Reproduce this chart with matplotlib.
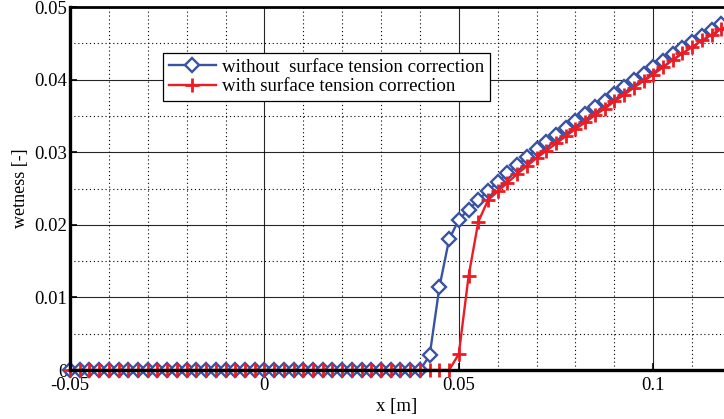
import matplotlib
matplotlib.use("Agg")
import matplotlib.pyplot as plt
from matplotlib.ticker import MultipleLocator

plt.rcParams['font.family'] = ['Liberation Serif', 'DejaVu Serif']

# x positions (m), step 0.0025
x = [-0.05, -0.0475, -0.045, -0.0425, -0.04, -0.0375, -0.035, -0.0325, -0.03, -0.0275,
     -0.025, -0.0225, -0.02, -0.0175, -0.015, -0.0125, -0.01, -0.0075, -0.005, -0.0025,
     0.0, 0.0025, 0.005, 0.0075, 0.01, 0.0125, 0.015, 0.0175, 0.02, 0.0225,
     0.025, 0.0275, 0.03, 0.0325, 0.035, 0.0375, 0.04, 0.0425, 0.045, 0.0475,
     0.05, 0.0525, 0.055, 0.0575, 0.06, 0.0625, 0.065, 0.0675, 0.07, 0.0725,
     0.075, 0.0775, 0.08, 0.0825, 0.085, 0.0875, 0.09, 0.0925, 0.095, 0.0975,
     0.1, 0.1025, 0.105, 0.1075, 0.11, 0.1125, 0.115, 0.1175]

wet_without = [0.0] * 37 + [
    0.0020, 0.0114, 0.0180, 0.0207, 0.0221, 0.0234, 0.0247, 0.0259, 0.0271, 0.0282,
    0.0293, 0.0304, 0.0314, 0.0324, 0.0333, 0.0343, 0.0352, 0.0362, 0.0371, 0.0380,
    0.0390, 0.0399, 0.0408, 0.0417, 0.0426, 0.0435, 0.0444, 0.0452, 0.0460, 0.0468,
    0.0476]

wet_with = [0.0] * 40 + [
    0.0022, 0.0129, 0.0204, 0.0234, 0.0246, 0.0258, 0.0270, 0.0281, 0.0292, 0.0302,
    0.0312, 0.0322, 0.0332, 0.0341, 0.0351, 0.0360, 0.0370, 0.0379, 0.0389, 0.0398,
    0.0407, 0.0417, 0.0427, 0.0436, 0.0445, 0.0454, 0.0462, 0.0470]

x_ticks = [-0.05, 0.0, 0.05, 0.1]
x_tick_labels = ['-0.05', '0', '0.05', '0.1']
y_ticks = [0.0, 0.01, 0.02, 0.03, 0.04, 0.05]
y_tick_labels = ['0', '0.01', '0.02', '0.03', '0.04', '0.05']

label_without = 'without  surface tension correction'
label_with = 'with surface tension correction'

blue = '#3953A4'
red = '#ED1C24'

fig = plt.figure(figsize=(7.24, 4.19), dpi=100)
ax = fig.add_axes([70 / 724, 49 / 419, 1 - 70 / 724, (370 - 7) / 419])

ax.plot(x, wet_without, color=blue, lw=1.7, marker='D', ms=7.2, mfc='white',
        mec=blue, mew=1.7, label=label_without, zorder=3, clip_on=False)
ax.plot(x, wet_with, color=red, lw=1.7, marker='+', ms=10.5, mec=red, mew=2.0,
        label=label_with, zorder=4, clip_on=False)

ax.set_xlim(-0.05, 0.1182)
ax.set_ylim(0, 0.05)
ax.set_xticks(x_ticks)
ax.set_xticklabels(x_tick_labels)
ax.set_yticks(y_ticks)
ax.set_yticklabels(y_tick_labels)
ax.xaxis.set_minor_locator(MultipleLocator(0.01))
ax.yaxis.set_minor_locator(MultipleLocator(0.005))

ax.grid(which='major', color='black', lw=0.8, ls='-', alpha=0.85)
ax.grid(which='minor', color='black', lw=0.8, ls=(0, (1, 2.5)))
ax.set_axisbelow(True)

ax.tick_params(which='major', direction='in', length=5, width=1.2,
               labelsize=13.5, top=False, right=False)
ax.tick_params(axis='y', which='major', pad=2)
ax.tick_params(axis='x', which='major', pad=5)
ax.tick_params(which='minor', length=0)

for side in ['left', 'bottom']:
    ax.spines[side].set_linewidth(2.4)
    ax.spines[side].set_zorder(5)
ax.spines['top'].set_linewidth(2.0)
ax.spines['top'].set_zorder(5)
ax.spines['right'].set_visible(False)

ax.set_xlabel('x [m]', fontsize=13.5, labelpad=3)
ax.set_ylabel('wetness [-]', fontsize=13, labelpad=4)

leg = ax.legend(loc='upper left', bbox_to_anchor=(93 / 654, (370 - 53) / 363),
                fontsize=13.6, frameon=True, fancybox=False, framealpha=1,
                edgecolor='black', borderpad=0.3, labelspacing=0.12,
                handlelength=2.5, handletextpad=0.35, borderaxespad=0)
leg.get_frame().set_linewidth(0.9)
leg.set_zorder(6)

fig.savefig('out.png', dpi=100)
